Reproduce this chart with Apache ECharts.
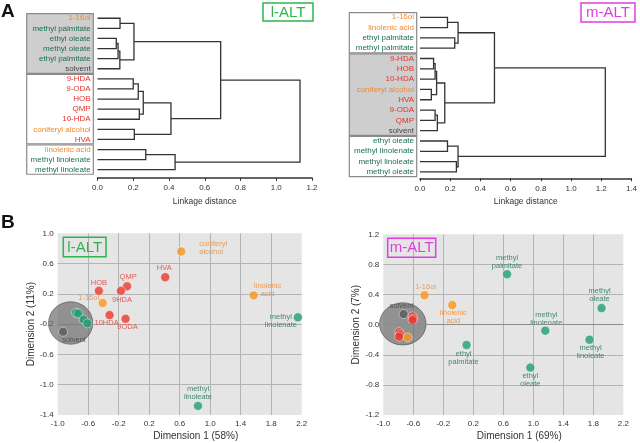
<!DOCTYPE html>
<html>
<head>
<meta charset="utf-8">
<script src="https://cdn.jsdelivr.net/npm/echarts@6/dist/echarts.min.js"></script>
<style>
html, body { margin: 0; padding: 0; background: #fff; }
#chart { width: 640px; height: 443px; }
</style>
</head>
<body>
<div id="chart"></div>
<script>
// ---- A: dendrograms (leaf order top -> bottom) ----
var leavesL = ['1-16ol', 'methyl palmitate', 'ethyl oleate', 'methyl oleate', 'ethyl palmitate', 'solvent',
  '9-HDA', '9-ODA', 'HOB', 'QMP', '10-HDA', 'coniferyl alcohol', 'HVA',
  'linolenic acid', 'methyl linolenate', 'methyl linoleate']
var leavesM = ['1-16ol', 'linolenic acid', 'ethyl palmitate', 'methyl palmitate',
  '9-HDA', 'HOB', '10-HDA', 'coniferyl alcohol', 'HVA', '9-ODA', 'QMP', 'solvent',
  'ethyl oleate', 'methyl linolenate', 'methyl linoleate', 'methyl oleate']
// merges: [a, b, linkage distance]; a number points to an earlier merge
var mergesL = [
  ['1-16ol', 'methyl palmitate', 0.126],
  ['ethyl oleate', 'methyl oleate', 0.105],
  [1, 'ethyl palmitate', 0.115],
  [2, 'solvent', 0.125],
  [0, 3, 0.204],
  ['9-HDA', '9-ODA', 0.2],
  [5, 'HOB', 0.228],
  ['QMP', '10-HDA', 0.234],
  [6, 7, 0.256],
  ['coniferyl alcohol', 'HVA', 0.206],
  [8, 9, 0.411],
  [4, 10, 0.689],
  ['linolenic acid', 'methyl linolenate', 0.27],
  [12, 'methyl linoleate', 0.434],
  [11, 13, 1.133]
]
var mergesM = [
  ['1-16ol', 'linolenic acid', 0.182],
  ['ethyl palmitate', 'methyl palmitate', 0.23],
  [0, 1, 0.252],
  ['9-HDA', 'HOB', 0.09],
  ['coniferyl alcohol', 'HVA', 0.075],
  [3, '10-HDA', 0.1],
  [5, 4, 0.11],
  ['9-ODA', 'QMP', 0.1],
  [7, 'solvent', 0.115],
  [6, 8, 0.164],
  [2, 9, 0.493],
  ['ethyl oleate', 'methyl linolenate', 0.182],
  ['methyl linoleate', 'methyl oleate', 0.241],
  [11, 12, 0.252],
  [10, 13, 1.227]
]
// boxed leaf groups: [first, last, shaded]
var boxesL = [[0, 5, 1], [6, 12, 0], [13, 15, 0]]
var boxesM = [[0, 3, 0], [4, 11, 1], [12, 15, 0]]
var distTicksL = [0, 1.2]
var distTicksM = [0, 1.4]

// ---- B: MDS plots ----
var namesL = ['coniferyl alcohol', 'HVA', 'QMP', '9-HDA', 'HOB', '1-16ol', 'linolenic acid', '10-HDA', '9-ODA',
  'methyl linolenate', 'methyl palmitate', 'ethyl oleate', 'methyl oleate', 'ethyl palmitate', 'solvent', 'methyl linoleate']
var dim1L = [0.62, 0.41, -0.09, -0.17, -0.46, -0.41, 1.57, -0.32, -0.11, 2.15, -0.76, -0.73, -0.66, -0.61, -0.93, 0.84]
var dim2L = [0.76, 0.42, 0.30, 0.24, 0.24, 0.08, 0.18, -0.08, -0.13, -0.11, -0.05, -0.06, -0.14, -0.19, -0.30, -1.28]
var namesM = ['methyl palmitate', '1-16ol', 'linolenic acid', 'methyl oleate', 'solvent', '9-HDA', 'HOB', 'QMP',
  '10-HDA', 'HVA', '9-ODA', 'coniferyl alcohol', 'methyl linolenate', 'ethyl palmitate', 'methyl linoleate', 'ethyl oleate']
var dim1M = [0.65, -0.45, -0.08, 1.91, -0.73, -0.61, -0.60, -0.61, -0.79, -0.78, -0.79, -0.675, 1.16, 0.11, 1.75, 0.96]
var dim2M = [0.67, 0.39, 0.26, 0.22, 0.14, 0.11, 0.08, 0.06, -0.10, -0.13, -0.16, -0.17, -0.08, -0.27, -0.20, -0.57]
// shaded cluster around solvent: [cx, cy, rx, ry] in data units
var clusterL = [-0.83, -0.185, 0.29, 0.28]
var clusterM = [-0.74, 0.01, 0.31, 0.28]

var font = '"Liberation Sans", Arial, sans-serif'
var ptColor = { r: '#ea3a2f', o: '#f7951d', g: '#1f9e74', s: '#5a5a5a' }
var txColor = { r: '#e3342c', o: '#f08a2c', g: '#1c7050', s: '#454545' }
function kind (name) {
  if (name === 'solvent') return 's'
  if (['1-16ol', 'linolenic acid', 'coniferyl alcohol'].indexOf(name) >= 0) return 'o'
  if (['9-HDA', '9-ODA', '10-HDA', 'HOB', 'QMP', 'HVA'].indexOf(name) >= 0) return 'r'
  return 'g'
}

// label offsets (px from the point centre); points without an entry get no label
var labL = {
  'coniferyl alcohol': [18, -4, 'left'], 'HVA': [-1, -9], 'QMP': [1, -9], '9-HDA': [1, 9], 'HOB': [0, -8],
  '1-16ol': [-14, -5], 'linolenic acid': [14, -5], '10-HDA': [-3, 8], '9-ODA': [2, 8],
  'methyl linolenate': [-17, 4], 'solvent': [11, 8], 'methyl linoleate': [0, -13]
}
var labM = {
  'methyl palmitate': [0, -12], '1-16ol': [1, -8], 'linolenic acid': [1, 12], 'methyl oleate': [-2, -13],
  'solvent': [-2, -8], 'methyl linolenate': [1, -12], 'ethyl palmitate': [-3, 13],
  'methyl linoleate': [1, 12], 'ethyl oleate': [0, 12]
}
var shortName = { '9-HDA': '9HDA', '10-HDA': '10HDA', '9-ODA': '9ODA' }

function linkSegments (leaves, merges) {
  var pos = {}
  leaves.forEach(function (n, i) { pos[n] = [0, i] })
  var segs = []
  merges.forEach(function (m, k) {
    var a = pos[m[0]]
    var b = pos[m[1]]
    segs.push([a[0], a[1], b[0], b[1], m[2]])
    pos[k] = [m[2], (a[1] + b[1]) / 2]
  })
  return segs
}

function renderLink (params, api) {
  var h = api.value(4)
  var pts = [
    api.coord([api.value(0), api.value(1)]),
    api.coord([h, api.value(1)]),
    api.coord([h, api.value(3)]),
    api.coord([api.value(2), api.value(3)])
  ]
  return { type: 'polyline', shape: { points: pts }, style: { stroke: '#333', lineWidth: 1.3, fill: null } }
}
function renderBox (params, api) {
  var a = api.coord([0, api.value(0) - 0.45])
  var b = api.coord([1, api.value(1) + 0.45])
  return {
    type: 'rect',
    shape: { x: a[0], y: a[1], width: b[0] - a[0], height: b[1] - a[1] },
    style: { fill: api.value(2) ? '#cecece' : '#fff', stroke: '#8a8a8a', lineWidth: 1.2 }
  }
}
function leafRenderer (leaves) {
  return function (params, api) {
    var p = api.coord([0.96, api.value(0)])
    var name = leaves[params.dataIndex]
    return {
      type: 'text', x: p[0], y: p[1],
      style: { text: name, fill: txColor[kind(name)], font: '8px ' + font, align: 'right', verticalAlign: 'middle', textAlign: 'right', textVerticalAlign: 'middle' }
    }
  }
}
function renderCluster (params, api) {
  var c = api.coord([api.value(0), api.value(1)])
  var s = api.size([api.value(2), api.value(3)])
  return { type: 'ellipse', shape: { cx: c[0], cy: c[1], rx: s[0], ry: s[1] }, style: { fill: 'rgba(105,105,105,0.68)', stroke: 'rgba(80,80,80,0.6)', lineWidth: 1 } }
}

function points (names, d1, d2, labs) {
  return names.map(function (n, i) {
    var k = kind(n)
    var l = labs[n]
    return {
      name: n,
      value: [d1[i], d2[i]],
      itemStyle: { color: ptColor[k], borderColor: 'rgba(255,255,255,0.55)', borderWidth: 1 },
      label: l ? {
        show: true, position: 'inside', offset: [l[0], l[1]], align: l[2] || 'center',
        color: txColor[k], fontSize: 7.5, lineHeight: 8,
        formatter: (shortName[n] || n).replace(' ', '\n')
      } : { show: false }
    }
  })
}

function fmt1 (v) { return (Math.round(v * 10) / 10).toFixed(1) }

function dendroX (gi, max) {
  return {
    gridIndex: gi, type: 'value', min: 0, max: max, interval: 0.2, position: 'bottom',
    axisLine: { show: true, onZero: false, lineStyle: { color: '#333', width: 1.5 } },
    axisTick: { show: true, length: 3, lineStyle: { color: '#333' } },
    axisLabel: { fontSize: 8, color: '#333', margin: 6, formatter: fmt1 },
    splitLine: { show: false },
    name: 'Linkage distance', nameLocation: 'middle', nameGap: 19,
    nameTextStyle: { fontSize: 8.5, color: '#333' }
  }
}
function hiddenY (gi, min, max) {
  return { gridIndex: gi, type: 'value', inverse: true, min: min, max: max, show: false, axisLine: { onZero: false } }
}
function mdsAxis (gi, min, max, name, gap, pad, isY) {
  return {
    gridIndex: gi, type: 'value', min: min, max: max, interval: 0.4,
    position: isY ? 'left' : 'bottom',
    axisLine: { show: false, onZero: false }, axisTick: { show: false },
    axisLabel: { fontSize: 8, color: '#333', margin: isY ? 4 : 5, formatter: fmt1 },
    splitLine: { show: true, showMinLine: false, showMaxLine: false, lineStyle: { color: '#b4b4b4', width: 1 } },
    name: name, nameLocation: 'middle', nameGap: gap,
    nameTextStyle: { fontSize: 10, color: '#333', padding: pad }
  }
}

var chart = echarts.init(document.getElementById('chart'), null, { renderer: 'canvas' })
chart.setOption({
  animation: false,
  backgroundColor: '#fff',
  textStyle: { fontFamily: font },
  grid: [
    { left: 97.5, top: 12.2, width: 214.5, height: 165.6 },
    { left: 26.7, top: 12.2, width: 66.6, height: 165.6 },
    { left: 420, top: 11.1, width: 213, height: 167.2 },
    { left: 349.3, top: 11.1, width: 67.4, height: 167.2 },
    { left: 57.7, top: 233.3, width: 244, height: 181.7, show: true, backgroundColor: '#e5e5e5', borderWidth: 0 },
    { left: 383.3, top: 234.3, width: 240, height: 180.7, show: true, backgroundColor: '#e5e5e5', borderWidth: 0 }
  ],
  xAxis: [
    dendroX(0, distTicksL[1]),
    { gridIndex: 1, type: 'value', min: 0, max: 1, show: false },
    dendroX(2, distTicksM[1]),
    { gridIndex: 3, type: 'value', min: 0, max: 1, show: false },
    mdsAxis(4, -1.0, 2.2, 'Dimension 1 (58%)', 16, [0, 0, 0, 32], false),
    mdsAxis(5, -1.0, 2.2, 'Dimension 1 (69%)', 16, [0, 0, 0, 32], false)
  ],
  yAxis: [
    hiddenY(0, -0.6, 15.8),
    hiddenY(1, -0.6, 15.8),
    hiddenY(2, -0.6, 15.62),
    hiddenY(3, -0.6, 15.62),
    mdsAxis(4, -1.4, 1.0, 'Dimension 2 (11%)', 20, 0, true),
    mdsAxis(5, -1.2, 1.2, 'Dimension 2 (7%)', 22, 0, true)
  ],
  series: [
    { type: 'custom', xAxisIndex: 0, yAxisIndex: 0, renderItem: renderLink, data: linkSegments(leavesL, mergesL), silent: true },
    { type: 'custom', xAxisIndex: 1, yAxisIndex: 1, renderItem: renderBox, data: boxesL, silent: true },
    { type: 'custom', xAxisIndex: 1, yAxisIndex: 1, renderItem: leafRenderer(leavesL), data: leavesL.map(function (n, i) { return [i] }), silent: true, z: 3 },
    { type: 'custom', xAxisIndex: 2, yAxisIndex: 2, renderItem: renderLink, data: linkSegments(leavesM, mergesM), silent: true },
    { type: 'custom', xAxisIndex: 3, yAxisIndex: 3, renderItem: renderBox, data: boxesM, silent: true },
    { type: 'custom', xAxisIndex: 3, yAxisIndex: 3, renderItem: leafRenderer(leavesM), data: leavesM.map(function (n, i) { return [i] }), silent: true, z: 3 },
    { type: 'custom', xAxisIndex: 4, yAxisIndex: 4, renderItem: renderCluster, data: [clusterL], silent: true, z: 1 },
    { type: 'custom', xAxisIndex: 5, yAxisIndex: 5, renderItem: renderCluster, data: [clusterM], silent: true, z: 1 },
    { type: 'scatter', xAxisIndex: 4, yAxisIndex: 4, symbolSize: 9, z: 4, data: points(namesL, dim1L, dim2L, labL) },
    {
      type: 'scatter', xAxisIndex: 5, yAxisIndex: 5, symbolSize: 9, z: 4, data: points(namesM, dim1M, dim2M, labM),
      markLine: { silent: true, symbol: 'none', label: { show: false }, lineStyle: { color: '#8c8c8c', width: 1, type: 'solid' }, data: [{ yAxis: 0 }] }
    }
  ],
  graphic: [
    { type: 'text', x: 1, y: 2, style: { text: 'A', font: 'bold 19px ' + font, fill: '#111' } },
    { type: 'text', x: 1, y: 213, style: { text: 'B', font: 'bold 19px ' + font, fill: '#111' } },
    { type: 'rect', shape: { x: 263, y: 3, width: 50, height: 18 }, style: { fill: '#fff', stroke: '#2db54b', lineWidth: 1.5 } },
    { type: 'text', x: 288, y: 12.5, style: { text: 'l-ALT', font: '15px ' + font, fill: '#2db54b', align: 'center', verticalAlign: 'middle', textAlign: 'center', textVerticalAlign: 'middle' } },
    { type: 'rect', shape: { x: 581, y: 3, width: 54, height: 19 }, style: { fill: '#fff', stroke: '#e03de0', lineWidth: 1.5 } },
    { type: 'text', x: 608, y: 13, style: { text: 'm-ALT', font: '15px ' + font, fill: '#e03de0', align: 'center', verticalAlign: 'middle', textAlign: 'center', textVerticalAlign: 'middle' } },
    { type: 'rect', z: 10, shape: { x: 63.3, y: 237.3, width: 42.7, height: 19.4 }, style: { fill: null, stroke: '#2db54b', lineWidth: 1.5 } },
    { type: 'text', z: 10, x: 84.7, y: 247.5, style: { text: 'l-ALT', font: '15px ' + font, fill: '#2db54b', align: 'center', verticalAlign: 'middle', textAlign: 'center', textVerticalAlign: 'middle' } },
    { type: 'rect', z: 10, shape: { x: 387.7, y: 238.3, width: 48, height: 19 }, style: { fill: null, stroke: '#e03de0', lineWidth: 1.5 } },
    { type: 'text', z: 10, x: 411.7, y: 248.3, style: { text: 'm-ALT', font: '15px ' + font, fill: '#e03de0', align: 'center', verticalAlign: 'middle', textAlign: 'center', textVerticalAlign: 'middle' } }
  ]
})
</script>
</body>
</html>
